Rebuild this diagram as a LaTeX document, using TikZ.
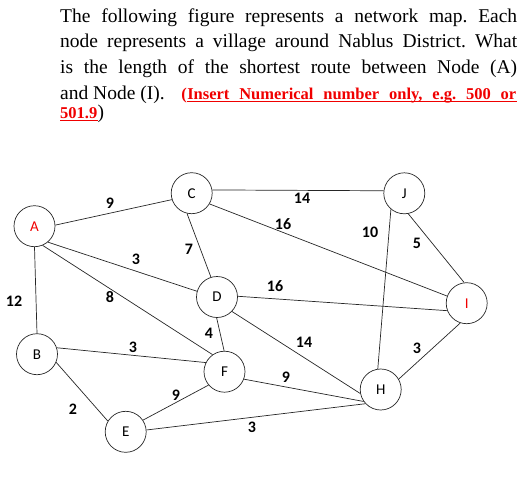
\documentclass[tikz,border=0pt]{standalone}
\usepackage{fontspec}
\setmainfont{Liberation Serif}
\newfontfamily\lbl{Carlito}
\definecolor{qred}{RGB}{240,0,0}
\begin{document}
\frenchspacing
\begin{tikzpicture}[x=1pt,y=-1pt,
  vtx/.style={circle,draw=black!85,line width=0.7pt,minimum size=41pt,inner sep=0pt,font=\lbl\fontsize{15}{15}\selectfont},
  edge/.style={draw=black!85,line width=0.7pt},
  wt/.style={font=\lbl\bfseries\fontsize{16}{16}\selectfont,inner sep=0pt},
  qline/.style={anchor=base west,inner sep=0pt,font=\frenchspacing\fontsize{19.5}{19.5}\selectfont},
  redtxt/.style={inner sep=0pt,text=qred,font=\frenchspacing\bfseries\fontsize{16.5}{16.5}\selectfont},
  uline/.style={draw=qred,line width=0.9pt}]
\useasboundingbox (0,0) rectangle (523,477);
\node[qline] (l1) at (60,22) {\makebox[457pt][s]{The following figure represents a network map. Each}};
\node[qline] (l2) at (60,47.5) {\makebox[457pt][s]{node represents a village around Nablus District. What}};
\node[qline] (l3) at (60,73) {\makebox[457pt][s]{is the length of the shortest route between Node (A)}};
\node[qline] (l4) at (60,99) {and Node (I).};
\node[redtxt,anchor=base east] (ul1) at (516.5,99) {\makebox[329pt][s]{Insert Numerical number only, e.g. 500 or}};
\node[redtxt,anchor=base east] (par1) at (ul1.base west) {(};
\node[redtxt,anchor=base west] (ul2) at (60,118) {501.9};
\node[qline,anchor=base west] (par2) at (ul2.base east) {)};
\draw[uline] ([yshift=-2.5pt]ul1.base west) -- ([yshift=-2.5pt]ul1.base east);
\draw[uline] ([yshift=-2.5pt]ul2.base west) -- ([yshift=-2.5pt]ul2.base east);

\node[vtx,text=qred] (A) at (34.5,226.2) {A};
\node[vtx] (C) at (191.7,193.2) {C};
\node[vtx] (D) at (217,297) {D};
\node[vtx] (J) at (404.3,193.3) {J};
\node[vtx,text=qred] (I) at (466.7,303.2) {I};
\node[vtx] (B) at (37,354.2) {B};
\node[vtx] (F) at (224.5,371.7) {F};
\node[vtx] (H) at (380.7,389.5) {H};
\node[vtx] (E) at (125.7,431.8) {E};

\draw[edge] (A.3) -- (C.198);
\draw[edge] (A.-50) -- (D.164);
\draw[edge] (A.-67) -- (F.125);
\draw[edge] (A.-90) -- (B.90);
\draw[edge] (C.9) -- (J.173);
\draw[edge] (C.-31) -- (I.160);
\draw[edge] (C.-103) -- (D.107);
\draw[edge] (D.2) -- (I.-159);
\draw[edge] (D.-91) -- (F.91);
\draw[edge] (D.-44) -- (H.191);
\draw[edge] (J.-130) -- (H.98);
\draw[edge] (J.-79) -- (I.97);
\draw[edge] (I.-108) -- (H.30);
\draw[edge] (B.18) -- (F.154);
\draw[edge] (B.-23) -- (E.149);
\draw[edge] (E.34) -- (F.220);
\draw[edge] (F.-21) -- (H.215);
\draw[edge] (E.5) -- (H.223);

\node[wt] (wAC) at (110,203) {9};
\node[wt] (wAD) at (136,259) {3};
\node[wt] (wAF) at (110,297) {8};
\node[wt] (wAB) at (14,301) {12};
\node[wt] (wCD) at (189,249) {7};
\node[wt] (wCJ) at (302,198) {14};
\node[wt] (wCI) at (283,224) {16};
\node[wt] (wJH) at (370,232) {10};
\node[wt] (wJI) at (417,243) {5};
\node[wt] (wDI) at (275,286) {16};
\node[wt] (wDF) at (209,333) {4};
\node[wt] (wBF) at (133,347) {3};
\node[wt] (wDH) at (304,342) {14};
\node[wt] (wIH) at (417,348) {3};
\node[wt] (wFH) at (286,377) {9};
\node[wt] (wEF) at (176,395) {9};
\node[wt] (wBE) at (73,409) {2};
\node[wt] (wEH) at (252,427) {3};
\end{tikzpicture}
\end{document}
